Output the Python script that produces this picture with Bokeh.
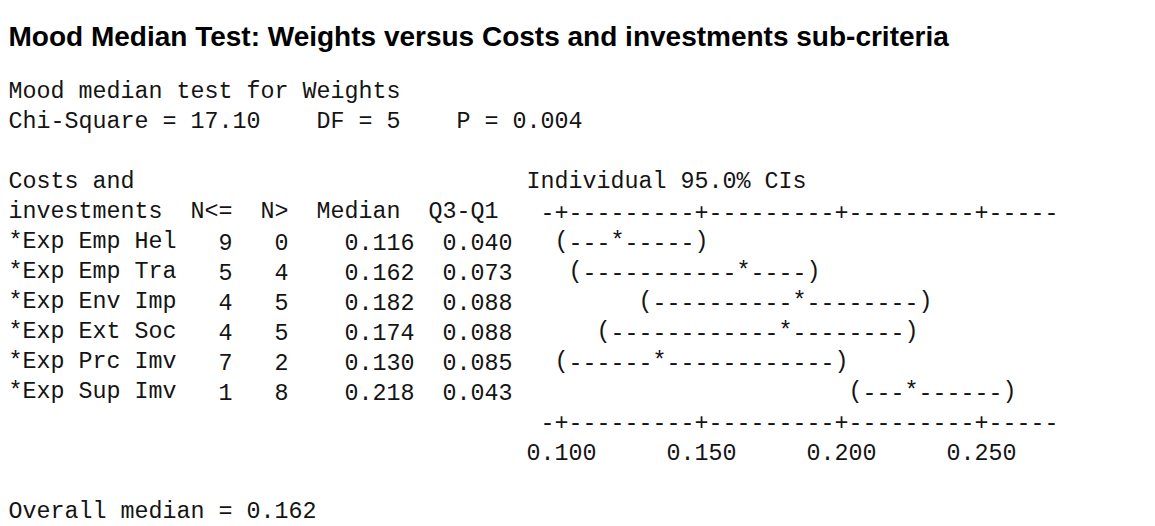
from bokeh.plotting import figure
from bokeh.models import Range1d, ColumnDataSource
from bokeh.core.properties import value
from bokeh.embed import file_html
from bokeh.resources import INLINE

# ---------------- data ----------------
title_text = "Mood Median Test: Weights versus Costs and investments sub-criteria"
response = "Weights"
factor_line1 = "Costs and"
factor_line2 = "investments"
categories = ["*Exp Emp Hel", "*Exp Emp Tra", "*Exp Env Imp",
              "*Exp Ext Soc", "*Exp Prc Imv", "*Exp Sup Imv"]
n_le = [9, 5, 4, 4, 7, 1]
n_gt = [0, 4, 5, 5, 2, 8]
medians = [0.116, 0.162, 0.182, 0.174, 0.130, 0.218]
q3_q1 = [0.040, 0.073, 0.088, 0.088, 0.085, 0.043]
ci_low = [0.095, 0.100, 0.125, 0.110, 0.095, 0.200]
ci_high = [0.145, 0.185, 0.225, 0.220, 0.195, 0.255]
ticks = [0.100, 0.150, 0.200, 0.250]
axis_start, axis_end = 0.095, 0.275
chi_square = 17.10
dof = 5
p_value = 0.004
overall_median = 0.162
conf_level = 95.0

# ---------------- layout ----------------
W, H = 1155, 526
CW = 14.0          # px per character cell
LH = 30.0          # px per text line
X0 = 8.0           # px left edge of first character cell
BASE0 = 91.0       # px baseline of first mono line
MONO = value("Liberation Mono")
MONO_SIZE = value("23.33px")
INK = "#141414"

cells_per_tick = 10
cell_step = (ticks[1] - ticks[0]) / cells_per_tick
tick_col = 39      # character column of the first tick '+'

p = figure(width=W, height=H,
           x_range=Range1d(-X0 / CW, (W - X0) / CW),
           y_range=Range1d((H - BASE0) / LH, -BASE0 / LH),
           output_backend="svg", toolbar_location=None,
           x_axis_type=None, y_axis_type=None, min_border=0)
p.grid.visible = False
p.outline_line_color = None
p.background_fill_color = "white"
p.border_fill_color = "white"

# value scale of the text plot, aligned to character cells
u0 = tick_col + 0.5 + X0 / CW
p.extra_x_ranges = {"ci": Range1d(ticks[0] - u0 * cell_step,
                                  ticks[0] + (W / CW - u0) * cell_step)}

# title
p.text(x=[0], y=[(36 - BASE0) / LH], text=[title_text],
       text_font=value("Liberation Sans"), text_font_style="bold",
       text_font_size=value("28px"), text_color="#000000",
       text_align="left", text_baseline="alphabetic")

# left aligned mono texts
lx, ly, lt = [], [], []
def put(col, line, s):
    lx.append(col); ly.append(line); lt.append(s)

put(0, 0, f"Mood median test for {response}")
put(0, 1, f"Chi-Square = {chi_square:.2f}")
put(22, 1, f"DF = {dof}")
put(32, 1, f"P = {p_value:.3f}")
put(0, 3, factor_line1)
put(37, 3, f"Individual {conf_level:.1f}% CIs")
put(0, 4, factor_line2)
for i, c in enumerate(categories):
    put(0, 5 + i, c)
put(0, 14, f"Overall median = {overall_median:.3f}")

p.text(x="x", y="y", text="t", source=ColumnDataSource(dict(x=lx, y=ly, t=lt)),
       text_font=MONO, text_font_size=MONO_SIZE, text_color=INK,
       text_align="left", text_baseline="alphabetic")

# right aligned numeric columns (headers and values)
rx, ry, rt = [], [], []
headers = ["N<=", "N>", "Median", "Q3-Q1"]
header_ends = [16, 20, 28, 35]
value_ends = [16, 20, 29, 36]
for h, e in zip(headers, header_ends):
    rx.append(e); ry.append(4); rt.append(h)
for i in range(len(categories)):
    vals = [f"{n_le[i]}", f"{n_gt[i]}", f"{medians[i]:.3f}", f"{q3_q1[i]:.3f}"]
    for v, e in zip(vals, value_ends):
        rx.append(e); ry.append(5 + i); rt.append(v)
p.text(x="x", y="y", text="t", source=ColumnDataSource(dict(x=rx, y=ry, t=rt)),
       text_font=MONO, text_font_size=MONO_SIZE, text_color=INK,
       text_align="right", text_baseline="alphabetic")

# text plot (character plot drawn on the value scale)
def plot_cell(v):
    return tick_col + 1 + round((v - ticks[0]) / cell_step)

def cell_value(c):
    return ticks[0] + (c - tick_col) * cell_step

cx, cy, ct = [], [], []
a0 = tick_col + round((axis_start - ticks[0]) / cell_step)
a1 = tick_col + round((axis_end - ticks[0]) / cell_step)
for line in (4, 11):
    for c in range(a0, a1 + 1):
        ch = "+" if (c - tick_col) % cells_per_tick == 0 else "-"
        cx.append(cell_value(c)); cy.append(line); ct.append(ch)
for i in range(len(categories)):
    lo, md, hi = plot_cell(ci_low[i]), plot_cell(medians[i]), plot_cell(ci_high[i])
    for c in range(lo, hi + 1):
        ch = "(" if c == lo else ")" if c == hi else "*" if c == md else "-"
        cx.append(cell_value(c)); cy.append(5 + i); ct.append(ch)
for t in ticks:
    cx.append(t); cy.append(12); ct.append(f"{t:.3f}")

p.text(x="x", y="y", text="t", source=ColumnDataSource(dict(x=cx, y=cy, t=ct)),
       x_range_name="ci",
       text_font=MONO, text_font_size=MONO_SIZE, text_color=INK,
       text_align="center", text_baseline="alphabetic")

open("out.html", "w").write(file_html(p, INLINE))
